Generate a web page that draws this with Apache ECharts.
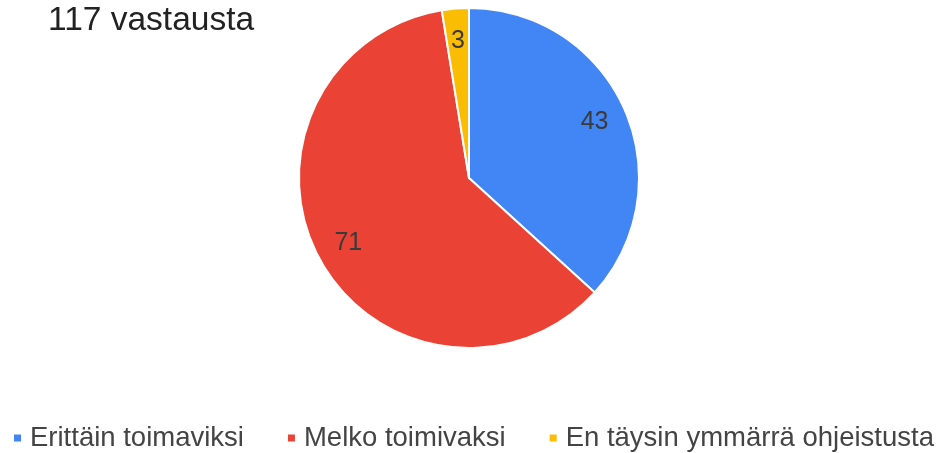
<!DOCTYPE html>
<html>
<head>
<meta charset="utf-8">
<script src="https://cdn.jsdelivr.net/npm/echarts@6/dist/echarts.min.js"></script>
<style>
  html, body { margin: 0; padding: 0; background: #fff; }
  #chart { width: 944px; height: 453px; }
</style>
</head>
<body>
<div id="chart"></div>
<script>
const titleText = '117 vastausta'
const categories = ['Erittäin toimaviksi', 'Melko toimivaksi', 'En täysin ymmärrä ohjeistusta']
const values = [43, 71, 3]
const colors = ['#4285F4', '#EA4335', '#FBBC04']

const font = 'Arial, "Liberation Sans", sans-serif'
const pieCenter = [469, 178]
const pieRadius = 170

const pieData = categories.map((name, i) => ({ name: name, value: values[i] }))

const chart = echarts.init(document.getElementById('chart'))
chart.setOption({
  animation: false,
  color: colors,
  title: {
    text: titleText,
    left: 43,
    top: -1,
    textStyle: { fontSize: 33.5, fontWeight: 'normal', color: '#222', fontFamily: font }
  },
  legend: {
    top: 419,
    left: 7,
    icon: 'rect',
    itemWidth: 9,
    itemHeight: 9,
    itemGap: 42,
    textStyle: { fontSize: 27.5, color: '#444', fontFamily: font, padding: [0, 0, 0, 3] }
  },
  series: [
    {
      // 扇区
      type: 'pie',
      center: pieCenter,
      radius: [0, pieRadius],
      startAngle: 90,
      clockwise: true,
      data: pieData,
      itemStyle: { borderColor: '#fff', borderWidth: 2 },
      label: { show: false },
      labelLine: { show: false },
      emphasis: { disabled: true }
    },
    {
      // 标签(透明环, 让数字靠外)
      type: 'pie',
      center: pieCenter,
      radius: [pieRadius * 0.58, pieRadius],
      startAngle: 90,
      clockwise: true,
      data: pieData,
      silent: true,
      itemStyle: { color: 'rgba(0,0,0,0)' },
      label: {
        show: true,
        position: 'inside',
        formatter: '{c}',
        fontSize: 25,
        color: '#3a3a3a',
        fontFamily: font
      },
      labelLine: { show: false },
      emphasis: { disabled: true }
    }
  ]
})
</script>
</body>
</html>
